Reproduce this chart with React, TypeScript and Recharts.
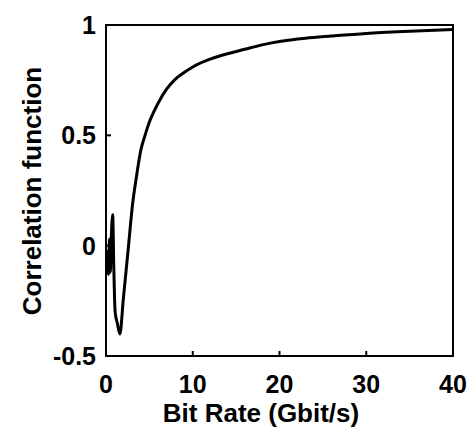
import React from "react";
import { LineChart, Line, XAxis, YAxis } from "recharts";

// bit rate in Gbit/s
const bitRate = [
  0.2, 0.3, 0.4, 0.5, 0.6, 0.77, 0.9, 1.05, 1.3, 1.6, 2.0, 2.5, 3.1, 3.5, 4.0, 4.5,
  5.0, 6.0, 7.0, 8.0, 9.0, 10, 12, 14, 16, 18, 20, 23, 26, 30, 35, 40,
];
const correlation = [
  -0.02, -0.13, 0.03, -0.12, 0.02, 0.14, -0.1, -0.3, -0.35, -0.4, -0.24, -0.04, 0.2,
  0.31, 0.43, 0.5, 0.56, 0.645, 0.71, 0.755, 0.785, 0.81, 0.845, 0.87, 0.89, 0.91,
  0.925, 0.94, 0.95, 0.962, 0.972, 0.98,
];
const xTicks = [0, 10, 20, 30, 40];
const yTicks = [-0.5, 0, 0.5, 1];

const data = bitRate.map((x, i) => ({ x, y: correlation[i] }));
const tickRows = xTicks.map((x, i) => ({ x, y: yTicks[i % yTicks.length] }));

const font = "'Liberation Sans', Arial, Helvetica, sans-serif";
const tickStyle = { fill: "#000", stroke: "none", fontSize: 25, fontWeight: 700, fontFamily: font };
const margin = { top: 24, right: 22, bottom: 0, left: 0 };

const XTitle = () => (
  <text x={261} y={422} textAnchor="middle" fill="#000" fontSize={26} fontWeight={700} fontFamily={font}>
    Bit Rate (Gbit/s)
  </text>
);

const YTitle = () => (
  <text
    x={32}
    y={191}
    transform="rotate(-90 32 191)"
    textAnchor="middle"
    dominantBaseline="central"
    fill="#000"
    fontSize={26}
    fontWeight={700}
    fontFamily={font}
  >
    Correlation function
  </text>
);

// axes shared by the curve chart and the frame overlay
const axes = (withText: boolean) => [
  <XAxis
    key="b"
    xAxisId="b"
    dataKey="x"
    type="number"
    domain={[0, 40]}
    ticks={xTicks}
    height={78}
    stroke="#000"
    strokeWidth={2}
    tickSize={-5}
    tickMargin={24}
    tick={withText ? tickStyle : false}
    label={withText ? <XTitle /> : undefined}
  />,
  <XAxis
    key="t"
    xAxisId="t"
    orientation="top"
    dataKey="x"
    type="number"
    domain={[0, 40]}
    ticks={xTicks}
    height={1}
    stroke="#000"
    strokeWidth={2}
    tickSize={-5}
    tick={false}
  />,
  <YAxis
    key="l"
    yAxisId="l"
    dataKey="y"
    type="number"
    domain={[-0.5, 1]}
    ticks={yTicks}
    width={106}
    stroke="#000"
    strokeWidth={2}
    tickSize={-5}
    tickMargin={15}
    tick={withText ? tickStyle : false}
    label={withText ? <YTitle /> : undefined}
  />,
  <YAxis
    key="r"
    yAxisId="r"
    dataKey="y"
    orientation="right"
    type="number"
    domain={[-0.5, 1]}
    ticks={yTicks}
    width={1}
    stroke="#000"
    strokeWidth={2}
    tickSize={-5}
    tick={false}
  />,
];

export default function App() {
  return (
    <div style={{ position: "absolute", left: 0, top: 0, width: 476, height: 434, background: "#fff" }}>
      <div style={{ position: "absolute", left: 0, top: 0 }}>
        <LineChart width={476} height={434} margin={margin}>
          {axes(true)}
          <Line
            xAxisId="b"
            yAxisId="l"
            data={data}
            dataKey="y"
            type="monotone"
            stroke="#000"
            strokeWidth={3}
            dot={false}
            isAnimationActive={false}
          />
        </LineChart>
      </div>
      <div style={{ position: "absolute", left: 0, top: 0, pointerEvents: "none" }}>
        <LineChart width={476} height={434} data={tickRows} margin={margin}>
          {axes(false)}
        </LineChart>
      </div>
      <div
        style={{
          position: "absolute",
          left: 105,
          top: 24,
          width: 349,
          height: 333,
          boxSizing: "border-box",
          border: "2px solid #000",
          pointerEvents: "none",
        }}
      />
    </div>
  );
}
